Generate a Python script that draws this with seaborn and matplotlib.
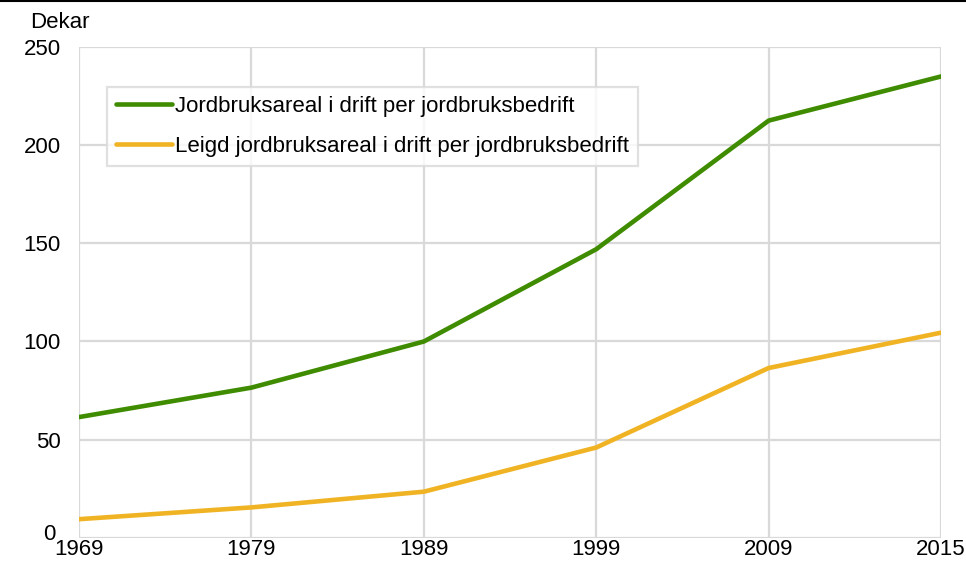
import pandas as pd
import matplotlib.pyplot as plt
import seaborn as sns
from matplotlib.lines import Line2D
from matplotlib.transforms import ScaledTranslation

# Data (dekar)
years = ["1969", "1979", "1989", "1999", "2009", "2015"]
total_area = [61.5, 76.5, 100.0, 147.0, 212.5, 235.0]
leased_area = [9.5, 15.5, 23.5, 46.0, 86.5, 104.5]
series_names = [
    "Jordbruksareal i drift per jordbruksbedrift",
    "Leigd jordbruksareal i drift per jordbruksbedrift",
]
colors = ["#3f8c00", "#f0b324"]

df = pd.DataFrame({
    "year": years * 2,
    "value": total_area + leased_area,
    "series": [series_names[0]] * len(years) + [series_names[1]] * len(years),
})

sns.set_style("white")
plt.rcParams["font.family"] = ["Liberation Sans", "DejaVu Sans"]
plt.rcParams["text.color"] = "black"

fig = plt.figure(figsize=(9.66, 5.62), dpi=100)
ax = fig.add_axes([0.0818, 0.043, 0.8924, 0.8734])

sns.lineplot(data=df, x="year", y="value", hue="series", palette=colors,
             linewidth=3.3, ax=ax, sort=False)

ax.set_xlim(0, len(years) - 1)
ax.set_ylim(0, 250)
ax.set_yticks(range(0, 251, 50))
ax.set_xticks(range(len(years)))
ax.set_xticklabels(years)
ax.grid(True, color="#d9d9d9", linewidth=1.6)
ax.set_axisbelow(True)
for s in ax.spines.values():
    s.set_visible(False)
ax.tick_params(axis="both", length=0, labelsize=16, colors="black")
ax.tick_params(axis="x", pad=1)
ax.tick_params(axis="y", pad=13)
ax.set_xlabel("")
ax.set_ylabel("")

# nudge the "0" label up/left a little so it clears "1969"
zero_lbl = ax.get_yticklabels()[0]
zero_lbl.set_transform(zero_lbl.get_transform()
                       + ScaledTranslation(-4 / 72, 4 / 72, fig.dpi_scale_trans))

leg = ax.legend(loc="upper left", bbox_to_anchor=(0.033, 0.918), fontsize=16,
                frameon=True, fancybox=False, handlelength=2.5, handletextpad=0.15,
                labelspacing=0.85, borderpad=0.4, borderaxespad=0)
leg.get_frame().set_edgecolor("#d9d9d9")
leg.get_frame().set_linewidth(1.6)
for t in leg.get_texts():
    t.set_color("black")

fig.text(0.031, 0.96, "Dekar", fontsize=16, va="center", ha="left", color="black")
fig.add_artist(Line2D([0, 1], [0.998, 0.998], color="black", linewidth=1.5,
                      transform=fig.transFigure))

fig.savefig("out.png", dpi=100)
